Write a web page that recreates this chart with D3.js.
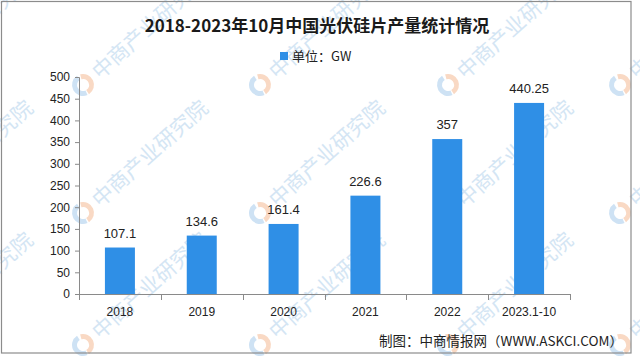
<!DOCTYPE html>
<html>
<head>
<meta charset="utf-8">
<script src="https://cdn.jsdelivr.net/npm/d3@7"></script>
<style>
  html, body { margin: 0; padding: 0; background: #fff; }
  svg { display: block; }
</style>
</head>
<body>
<svg id="chart" width="640" height="357"></svg>
<script>
const categories = ["2018", "2019", "2020", "2021", "2022", "2023.1-10"];
const production = [107.1, 134.6, 161.4, 226.6, 357, 440.25];
const valueLabels = ["107.1", "134.6", "161.4", "226.6", "357", "440.25"];
const yTicks = [0, 50, 100, 150, 200, 250, 300, 350, 400, 450, 500];
const title = "2018-2023年10月中国光伏硅片产量统计情况";
const legendLabel = "单位：GW";
const sourceText = "制图：中商情报网（WWW.ASKCI.COM）";
const watermark = "中商产业研究院";

(function () {
const svg = d3.select("#chart");
const W = 640, H = 357;
const mLeft = 79, mRight = 570, mTop = 77, mBottom = 294;
const barColor = "#2f8fe6";
const axisColor = "#8a8a8a";
const sans = "'Liberation Sans', Arial, 'Noto Sans CJK SC', sans-serif";
const cjk = "'Noto Sans CJK SC', 'Liberation Sans', sans-serif";

svg.append("rect").attr("width", W).attr("height", H).attr("fill", "#fff");

// watermarks (clipped to the picture)
svg.append("defs").append("clipPath").attr("id", "pic")
  .append("rect").attr("width", W).attr("height", H);
const wmX = [-92, 83, 260, 448, 620];
const wmY = [-45, 85, 213, 345];
const wm = svg.append("g").attr("class", "watermarks").attr("clip-path", "url(#pic)");
wmY.forEach(wy => wmX.forEach(wx => {
  const g = wm.append("g").attr("transform", `translate(${wx},${wy}) rotate(-42)`);
  const arc = d3.arc().innerRadius(6).outerRadius(11);
  g.append("path").attr("d", arc({startAngle: Math.PI * 0.15, endAngle: Math.PI * 1.05}))
    .attr("fill", "#f6c9ab").attr("opacity", 0.7);
  g.append("path").attr("d", arc({startAngle: Math.PI * 1.1, endAngle: Math.PI * 2.05}))
    .attr("fill", "#b9d6ef").attr("opacity", 0.7);
  g.append("text").attr("x", 16).attr("y", 8)
    .attr("font-family", cjk).attr("font-size", 21)
    .attr("fill", "#c6ddf1").attr("opacity", 0.75)
    .text(watermark);
}));

// border
svg.append("rect").attr("x", 1.5).attr("y", 1.5).attr("width", 629.5).attr("height", 351.5)
  .attr("fill", "none").attr("stroke", "#8c8c8c").attr("stroke-width", 1.2);

// title
svg.append("text").attr("x", 317).attr("y", 32).attr("text-anchor", "middle")
  .attr("font-family", cjk).attr("font-weight", "bold").attr("font-size", 17)
  .attr("fill", "#1a1a1a").text(title);

// legend
svg.append("rect").attr("x", 280).attr("y", 52).attr("width", 8).attr("height", 8).attr("fill", barColor);
svg.append("text").attr("x", 292).attr("y", 61)
  .attr("font-family", cjk).attr("font-size", 13).attr("fill", "#222").text(legendLabel);

// scales
const x = d3.scaleBand().domain(categories).range([mLeft, mRight]).padding(0);
const y = d3.scaleLinear().domain([0, 500]).range([mBottom, mTop]);
const barW = 30;

// y axis
const yAxis = d3.axisLeft(y).tickValues(yTicks).tickSize(4).tickPadding(5).tickFormat(d3.format("d"));
const gy = svg.append("g").attr("transform", `translate(${mLeft},0)`).call(yAxis);
gy.select(".domain").attr("stroke", axisColor);
gy.selectAll(".tick line").attr("stroke", axisColor);
gy.selectAll(".tick text").attr("font-family", sans).attr("font-size", 12).attr("fill", "#222");

// bars
const data = categories.map((c, i) => ({c, v: production[i], label: valueLabels[i]}));
svg.append("g").selectAll("rect").data(data).join("rect")
  .attr("x", d => x(d.c) + (x.bandwidth() - barW) / 2)
  .attr("y", d => y(d.v))
  .attr("width", barW)
  .attr("height", d => y(0) - y(d.v))
  .attr("fill", barColor);

// value labels
svg.append("g").selectAll("text").data(data).join("text")
  .attr("x", d => x(d.c) + x.bandwidth() / 2)
  .attr("y", d => y(d.v) - 10)
  .attr("text-anchor", "middle")
  .attr("font-family", sans).attr("font-size", 13).attr("fill", "#222")
  .text(d => d.label);

// x axis (ticks at band boundaries)
const gx = svg.append("g");
gx.append("line").attr("x1", mLeft).attr("x2", mRight).attr("y1", mBottom + 0.5).attr("y2", mBottom + 0.5)
  .attr("stroke", axisColor);
const bounds = categories.map(c => x(c)).concat([x(categories[categories.length - 1]) + x.bandwidth()]);
gx.selectAll("line.tk").data(bounds).join("line").attr("class", "tk")
  .attr("x1", d => Math.round(d) + 0.5).attr("x2", d => Math.round(d) + 0.5)
  .attr("y1", mBottom).attr("y2", mBottom + 6).attr("stroke", axisColor);
gx.selectAll("text").data(categories).join("text")
  .attr("x", d => x(d) + x.bandwidth() / 2)
  .attr("y", 316)
  .attr("text-anchor", "middle")
  .attr("font-family", sans).attr("font-size", 12).attr("fill", "#222")
  .text(d => d);

// source
svg.append("text").attr("x", 623).attr("y", 346).attr("text-anchor", "end")
  .attr("font-family", cjk).attr("font-size", 13.5).attr("fill", "#222").text(sourceText);
})();
</script>
</body>
</html>
